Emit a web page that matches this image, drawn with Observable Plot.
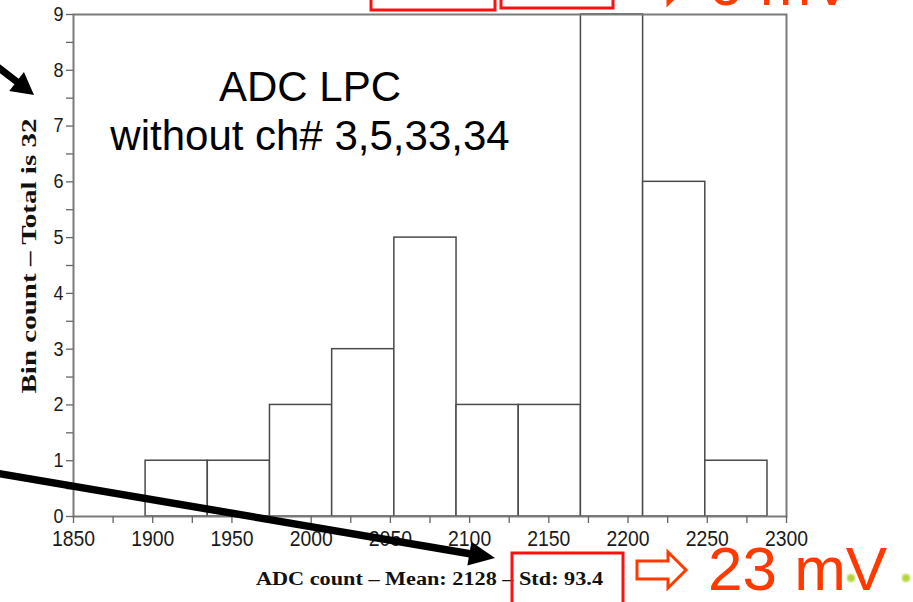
<!DOCTYPE html>
<html>
<head>
<meta charset="utf-8">
<script src="https://cdn.jsdelivr.net/npm/d3@7"></script>
<script src="https://cdn.jsdelivr.net/npm/@observablehq/plot@0.6"></script>
<style>
  html, body { margin: 0; padding: 0; background: #fff; }
  #chart { width: 913px; height: 602px; overflow: hidden; position: relative; }
</style>
</head>
<body>
<div id="chart"></div>
<script>
// Histogram of ADC pedestal values (10 bins, 32 channels)
const binEdges = [1895.5, 1934.75, 1974, 2013.25, 2052.5, 2091.75, 2131, 2170.25, 2209.5, 2248.75, 2288];
const binCounts = [1, 1, 2, 3, 5, 2, 2, 9, 6, 1];
const xTicks = d3.range(1850, 2301, 25);      // labelled every 50
const yTicks = d3.range(0, 9.01, 0.5);        // labelled every 1
const xTitle = "ADC count \u2013 Mean: 2128 \u2013 Std: 93.4";
const yTitle = "Bin count \u2013 Total is 32";
const noteLines = ["ADC LPC", "without ch# 3,5,33,34"];
const resultText = "23 mV";
const resultTextTop = "6 mV";

const bins = binCounts.map((count, i) => ({x1: binEdges[i], x2: binEdges[i + 1], count}));

const W = 913, H = 602;
const svg = Plot.plot({
  width: W,
  height: H,
  marginLeft: 73,
  marginRight: 127,
  marginTop: 14,
  marginBottom: 86,
  style: {background: "white", color: "#1a1a1a", fontFamily: "'Liberation Sans', Arial, sans-serif", fontSize: "16px", overflow: "visible"},
  x: {domain: [1850, 2300]},
  y: {domain: [0, 9]},
  marks: [
    Plot.rectY(bins, {x1: "x1", x2: "x2", y: "count", fill: "white", stroke: "#4a4a4a", strokeWidth: 1.5}),
    Plot.frame({stroke: "#7a7a7a", strokeWidth: 2}),
    Plot.axisX({ticks: xTicks, tickSize: 7, tickPadding: 6, stroke: "#666", strokeWidth: 1.3, fontSize: 19,
      tickFormat: d => d % 50 === 0 ? String(d) : "", label: null}),
    Plot.axisY({ticks: yTicks, tickSize: 7, tickPadding: 3, stroke: "#666", strokeWidth: 1.3, fontSize: 18,
      tickFormat: d => Number.isInteger(d) ? String(d) : "", label: null})
  ]
});

// Tick label glyphs are drawn a little tall
function stretch(sel, sx, sy) {
  sel.each(function() {
    const t = d3.select(this);
    let tr = t.attr("transform");
    if (!tr) {
      const x = +t.attr("x") || 0, y = +t.attr("y") || 0;
      t.attr("x", null).attr("y", null);
      tr = `translate(${x},${y})`;
    }
    t.attr("transform", tr + ` scale(${sx},${sy})`);
  });
}
const root = d3.select(svg);
stretch(root.selectAll('g[aria-label="x-axis tick label"] text'), 1.02, 1.2);
stretch(root.selectAll('g[aria-label="y-axis tick label"] text'), 1, 1.1);

const ov = root.append("g").attr("class", "overlay").attr("text-anchor", "start");

// Axis titles
ov.append("text")
  .attr("transform", "translate(36,256) rotate(-90)")
  .attr("text-anchor", "middle")
  .attr("font-family", "'Liberation Serif', 'Times New Roman', serif")
  .attr("font-weight", "bold").attr("font-size", 22).attr("fill", "#111")
  .attr("textLength", 275).attr("lengthAdjust", "spacingAndGlyphs")
  .text(yTitle);
ov.append("text")
  .attr("x", 256).attr("y", 585)
  .attr("text-anchor", "start")
  .attr("font-family", "'Liberation Serif', 'Times New Roman', serif")
  .attr("font-weight", "bold").attr("font-size", 18).attr("fill", "#111")
  .attr("textLength", 347).attr("lengthAdjust", "spacingAndGlyphs")
  .text(xTitle);

// In-plot note
noteLines.forEach((line, i) => {
  ov.append("text")
    .attr("x", 310).attr("y", 101 + i * 49)
    .attr("text-anchor", "middle")
    .attr("font-family", "'Liberation Sans', Arial, sans-serif")
    .attr("font-size", 42).attr("fill", "#000")
    .text(line);
});

// Highlight boxes
const red = "#ff1010", orange = "#ff3a00";
[[512, 553, 111, 80], [371, -20, 124, 30], [501, -20, 112, 28]].forEach(([x, y, w, h]) => {
  ov.append("rect").attr("x", x).attr("y", y).attr("width", w).attr("height", h)
    .attr("fill", "none").attr("stroke", red).attr("stroke-width", 3);
});

// Hollow arrows and results
function hollowArrow(dy) {
  ov.append("path")
    .attr("d", `M637,${561 + dy}H668V${552 + dy}L686,${570 + dy}L668,${588 + dy}V${579 + dy}H637Z`)
    .attr("fill", "white").attr("stroke", orange).attr("stroke-width", 3).attr("stroke-linejoin", "miter");
}
hollowArrow(0);
hollowArrow(-584);
ov.append("text").attr("x", 708).attr("y", 590)
  .attr("text-anchor", "start")
  .attr("font-family", "'Liberation Sans', Arial, sans-serif").attr("font-size", 62).attr("fill", orange)
  .text(resultText);
ov.append("text").attr("x", 708).attr("y", 5)
  .attr("text-anchor", "start")
  .attr("font-family", "'Liberation Sans', Arial, sans-serif").attr("font-size", 62).attr("fill", orange)
  .text(resultTextTop);

// Small green bullets
const defs = root.append("defs");
defs.append("filter").attr("id", "soft").append("feGaussianBlur").attr("stdDeviation", 1);
[851, 906].forEach(cx => {
  ov.append("circle").attr("cx", cx).attr("cy", 578).attr("r", 4)
    .attr("fill", "#b2d236").attr("filter", "url(#soft)");
});

// Black pointer arrows
function pointer(x0, y0, x1, y1, w, headLen, headHalf) {
  const dx = x1 - x0, dy = y1 - y0, L = Math.hypot(dx, dy);
  const ux = dx / L, uy = dy / L, nx = -uy, ny = ux;
  const bx = x1 - ux * headLen, by = y1 - uy * headLen;
  ov.append("line").attr("x1", x0).attr("y1", y0).attr("x2", bx + ux * 2).attr("y2", by + uy * 2)
    .attr("stroke", "#000").attr("stroke-width", w);
  ov.append("path")
    .attr("d", `M${x1},${y1}L${bx + nx * headHalf},${by + ny * headHalf}L${bx - nx * headHalf},${by - ny * headHalf}Z`)
    .attr("fill", "#000");
}
pointer(-10, 61, 34, 95, 7, 22, 12);
pointer(-10, 472, 495, 558, 7.5, 26, 12);

document.getElementById("chart").appendChild(svg);
</script>
</body>
</html>
